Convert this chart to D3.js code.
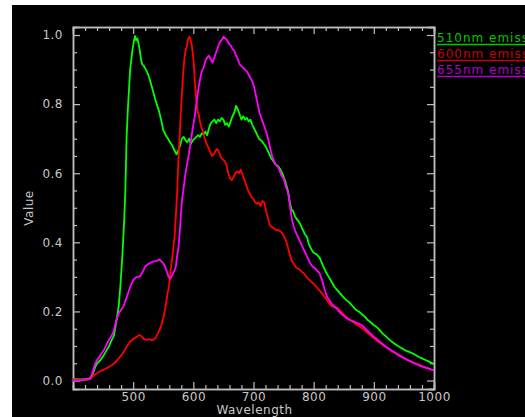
<!DOCTYPE html>
<html>
<head>
<meta charset="utf-8">
<script src="https://cdn.jsdelivr.net/npm/d3@7"></script>
<style>
  body { margin: 0; background: #fff; }
  svg { display: block; }
  text { font-family: "DejaVu Sans", sans-serif; }
</style>
</head>
<body>
<div id="chart"></div>
<script>
// wavelength (nm), value
var green510 = [[400,0.005],[410,0.003],[420,0.004],[428,0.006],[433,0.02],[437,0.04],[440,0.05],[445,0.058],[450,0.07],[455,0.085],[460,0.1],[465,0.12],[468,0.13],[472,0.17],[476,0.215],[479,0.28],[482,0.36],[485,0.46],[487,0.55],[489,0.7],[491,0.78],[493,0.84],[495,0.9],[497,0.93],[499,0.96],[501,0.98],[503,0.997],[505,0.985],[507,0.99],[509,0.975],[511,0.955],[513,0.93],[515,0.915],[518,0.91],[521,0.9],[524,0.89],[527,0.875],[531,0.85],[535,0.825],[539,0.8],[543,0.78],[547,0.75],[550,0.725],[554,0.71],[558,0.7],[561,0.69],[565,0.68],[569,0.665],[572,0.655],[575,0.665],[578,0.68],[581,0.7],[584,0.705],[587,0.695],[590,0.69],[593,0.7],[596,0.685],[599,0.695],[602,0.7],[605,0.705],[608,0.71],[611,0.705],[614,0.715],[617,0.712],[620,0.72],[623,0.71],[626,0.73],[629,0.745],[632,0.75],[635,0.755],[638,0.745],[641,0.755],[644,0.75],[647,0.76],[650,0.755],[653,0.74],[656,0.745],[659,0.735],[662,0.75],[665,0.765],[668,0.775],[671,0.795],[674,0.785],[677,0.77],[680,0.755],[683,0.765],[686,0.755],[689,0.76],[692,0.75],[695,0.755],[698,0.74],[701,0.73],[705,0.715],[709,0.7],[713,0.695],[717,0.685],[721,0.675],[725,0.66],[729,0.645],[733,0.635],[737,0.625],[741,0.62],[745,0.61],[749,0.595],[753,0.575],[757,0.55],[760,0.52],[763,0.495],[766,0.49],[769,0.475],[773,0.465],[777,0.455],[781,0.44],[785,0.425],[789,0.415],[792,0.395],[796,0.38],[800,0.37],[805,0.365],[810,0.355],[815,0.335],[820,0.315],[825,0.3],[830,0.285],[835,0.27],[840,0.26],[845,0.25],[850,0.24],[855,0.232],[860,0.225],[865,0.215],[870,0.205],[875,0.2],[880,0.192],[885,0.185],[890,0.175],[895,0.168],[900,0.16],[905,0.155],[910,0.145],[915,0.135],[920,0.128],[925,0.12],[930,0.112],[935,0.106],[940,0.1],[945,0.095],[950,0.09],[955,0.085],[960,0.082],[965,0.078],[970,0.073],[975,0.068],[980,0.064],[985,0.06],[990,0.056],[995,0.052],[1000,0.048]];

var red600 = [[400,0.003],[410,0.002],[420,0.003],[428,0.004],[432,0.01],[436,0.017],[440,0.022],[445,0.027],[450,0.03],[455,0.035],[460,0.04],[465,0.045],[470,0.052],[475,0.062],[480,0.072],[485,0.085],[490,0.1],[495,0.113],[500,0.12],[505,0.125],[510,0.132],[514,0.128],[518,0.12],[522,0.118],[526,0.12],[530,0.117],[534,0.118],[538,0.125],[542,0.14],[546,0.155],[550,0.18],[554,0.215],[557,0.25],[560,0.28],[563,0.33],[566,0.37],[569,0.42],[571,0.48],[573,0.54],[575,0.63],[577,0.7],[579,0.77],[581,0.83],[583,0.885],[585,0.93],[587,0.955],[589,0.965],[591,0.985],[593,0.995],[595,0.99],[597,0.975],[599,0.95],[601,0.91],[603,0.855],[605,0.81],[607,0.78],[609,0.77],[611,0.75],[613,0.735],[616,0.72],[619,0.7],[622,0.685],[625,0.675],[628,0.662],[631,0.65],[634,0.655],[637,0.665],[640,0.67],[643,0.66],[646,0.645],[649,0.64],[652,0.635],[655,0.625],[658,0.6],[661,0.585],[664,0.58],[667,0.59],[670,0.6],[673,0.605],[676,0.6],[679,0.61],[682,0.595],[685,0.58],[688,0.565],[691,0.55],[694,0.54],[697,0.53],[700,0.525],[703,0.515],[706,0.512],[709,0.515],[712,0.505],[715,0.52],[718,0.515],[721,0.49],[724,0.47],[727,0.45],[730,0.445],[734,0.44],[738,0.435],[742,0.435],[746,0.43],[750,0.42],[754,0.405],[758,0.38],[761,0.36],[764,0.345],[768,0.335],[772,0.325],[776,0.322],[780,0.315],[784,0.31],[788,0.3],[792,0.293],[796,0.286],[800,0.28],[805,0.27],[810,0.26],[815,0.25],[820,0.238],[825,0.225],[830,0.215],[835,0.212],[840,0.21],[845,0.2],[850,0.19],[855,0.183],[860,0.177],[865,0.17],[870,0.163],[875,0.158],[880,0.152],[885,0.145],[890,0.137],[895,0.13],[900,0.122],[905,0.116],[910,0.109],[915,0.103],[920,0.097],[925,0.091],[930,0.085],[935,0.08],[940,0.075],[945,0.07],[950,0.065],[955,0.06],[960,0.057],[965,0.053],[970,0.049],[975,0.046],[980,0.042],[985,0.038],[990,0.035],[995,0.032],[1000,0.029]];

var magenta655 = [[400,0.0],[410,0.0],[420,0.002],[428,0.005],[432,0.02],[436,0.045],[440,0.06],[444,0.068],[448,0.08],[452,0.09],[456,0.105],[460,0.118],[464,0.13],[467,0.14],[470,0.16],[473,0.18],[476,0.195],[480,0.205],[484,0.215],[488,0.235],[492,0.255],[496,0.275],[500,0.29],[504,0.298],[508,0.3],[512,0.302],[516,0.315],[520,0.33],[524,0.336],[528,0.34],[532,0.344],[536,0.345],[540,0.347],[544,0.35],[547,0.345],[550,0.34],[553,0.33],[556,0.315],[559,0.3],[562,0.295],[565,0.305],[568,0.315],[571,0.33],[573,0.36],[575,0.38],[577,0.42],[579,0.47],[581,0.52],[584,0.56],[587,0.6],[590,0.63],[593,0.66],[596,0.695],[599,0.73],[602,0.76],[605,0.8],[608,0.84],[611,0.87],[614,0.895],[617,0.905],[620,0.925],[623,0.935],[626,0.94],[629,0.93],[632,0.92],[635,0.935],[638,0.95],[641,0.965],[644,0.98],[647,0.985],[650,0.995],[653,0.99],[656,0.985],[659,0.975],[662,0.97],[665,0.96],[668,0.955],[671,0.94],[674,0.93],[677,0.915],[680,0.91],[683,0.905],[686,0.9],[689,0.895],[692,0.885],[695,0.875],[698,0.865],[701,0.85],[704,0.825],[707,0.8],[710,0.775],[713,0.76],[716,0.745],[719,0.73],[722,0.715],[725,0.695],[728,0.67],[731,0.65],[734,0.635],[737,0.625],[740,0.62],[743,0.61],[746,0.595],[750,0.585],[754,0.56],[758,0.54],[761,0.5],[764,0.465],[767,0.445],[770,0.43],[774,0.415],[778,0.4],[782,0.385],[786,0.37],[790,0.355],[794,0.34],[798,0.33],[802,0.325],[806,0.318],[810,0.31],[814,0.29],[818,0.265],[822,0.243],[826,0.232],[830,0.222],[834,0.215],[838,0.209],[842,0.2],[846,0.193],[850,0.187],[855,0.18],[860,0.175],[865,0.172],[870,0.168],[875,0.164],[880,0.16],[885,0.152],[890,0.143],[895,0.135],[900,0.126],[905,0.12],[910,0.112],[915,0.105],[920,0.098],[925,0.092],[930,0.086],[935,0.081],[940,0.075],[945,0.07],[950,0.065],[955,0.06],[960,0.056],[965,0.052],[970,0.048],[975,0.044],[980,0.041],[985,0.038],[990,0.035],[995,0.032],[1000,0.029]];

var seriesNames = ["510nm emission", "600nm emission", "655nm emission"];
var xMajor = [500, 600, 700, 800, 900, 1000];
var yMajor = [0.0, 0.2, 0.4, 0.6, 0.8, 1.0];

var W = 525, H = 417;
var pLeft = 73, pRight = 434, pTop = 27, pBottom = 389;
var axisCol = "#bdbdbd";

var svg = d3.select("#chart").append("svg")
    .attr("width", W)
    .attr("height", H);

// black area
svg.append("rect")
   .attr("x", 12).attr("y", 5)
   .attr("width", W - 12).attr("height", H - 5)
   .style("fill", "black");

var x = d3.scaleLinear().domain([400, 1000]).range([pLeft, pRight]);
var y = d3.scaleLinear().domain([-0.0245, 1.0232]).range([pBottom, pTop]);

var xMinor = d3.range(400, 1001, 20).filter(function(d){ return d % 100 != 0; });
var yMinor = d3.range(0, 21).map(function(d){ return d * 0.05; }).filter(function(d){ return Math.round(d*100) % 20 != 0; });

function styleAxis(g){
	g.selectAll("path.domain").style("stroke", axisCol).style("stroke-width", 1.5);
	g.selectAll(".tick line").style("stroke", axisCol).style("stroke-width", 1.2);
	g.selectAll("text").style("fill", "#c8c8c8").style("font-size", "12px").attr("letter-spacing", "0.5px");
}

// bottom
svg.append("g").attr("transform", "translate(0," + pBottom + ")")
	.call(d3.axisBottom(x).tickValues(xMajor).tickSize(-7).tickPadding(3).tickFormat(d3.format("d")))
	.call(styleAxis);
svg.append("g").attr("transform", "translate(0," + pBottom + ")")
	.call(d3.axisBottom(x).tickValues(xMinor).tickSize(-4).tickFormat(""))
	.call(styleAxis);
// top
svg.append("g").attr("transform", "translate(0," + pTop + ")")
	.call(d3.axisTop(x).tickValues(xMajor).tickSize(-7).tickFormat(""))
	.call(styleAxis);
svg.append("g").attr("transform", "translate(0," + pTop + ")")
	.call(d3.axisTop(x).tickValues(xMinor).tickSize(-4).tickFormat(""))
	.call(styleAxis);
// left
svg.append("g").attr("transform", "translate(" + pLeft + ",0)")
	.call(d3.axisLeft(y).tickValues(yMajor).tickSize(-7).tickPadding(10).tickFormat(d3.format(".1f")))
	.call(styleAxis);
svg.append("g").attr("transform", "translate(" + pLeft + ",0)")
	.call(d3.axisLeft(y).tickValues(yMinor).tickSize(-4).tickFormat(""))
	.call(styleAxis);
// right
svg.append("g").attr("transform", "translate(" + pRight + ",0)")
	.call(d3.axisRight(y).tickValues(yMajor).tickSize(-7).tickFormat(""))
	.call(styleAxis);
svg.append("g").attr("transform", "translate(" + pRight + ",0)")
	.call(d3.axisRight(y).tickValues(yMinor).tickSize(-4).tickFormat(""))
	.call(styleAxis);

// axis titles
svg.append("text")
   .attr("x", (pLeft + pRight) / 2 + 1).attr("y", 414)
   .attr("text-anchor", "middle")
   .attr("letter-spacing", "0.5px")
   .style("fill", "#c8c8c8").style("font-size", "12px")
   .text("Wavelength");
svg.append("text")
   .attr("transform", "translate(33,208) rotate(-90)")
   .attr("text-anchor", "middle")
   .attr("letter-spacing", "0.5px")
   .style("fill", "#c8c8c8").style("font-size", "12px")
   .text("Value");

// curves
svg.append("clipPath").attr("id", "clip")
   .append("rect").attr("x", pLeft).attr("y", pTop).attr("width", pRight - pLeft).attr("height", pBottom - pTop);

var line = d3.line()
	.x(function(d){ return x(d[0]); })
	.y(function(d){ return y(d[1]); });

var lineCols = ["#00ff00", "#ff0000", "#ff00ff"];
var legendCols = ["#00c800", "#c80000", "#b000c8"];
var allSeries = [green510, red600, magenta655];

svg.append("g").attr("clip-path", "url(#clip)")
   .selectAll("path")
   .data(allSeries)
   .enter().append("path")
   .attr("d", line)
   .style("fill", "none")
   .style("stroke", function(d, i){ return lineCols[i]; })
   .style("stroke-width", 1.8)
   .style("stroke-linejoin", "round");

// legend, runs off the right edge like the original
var leg = svg.append("g");
seriesNames.forEach(function(name, i){
	var yy = 42 + i * 16;
	leg.append("text")
	   .attr("x", 437).attr("y", yy)
	   .attr("letter-spacing", "1px")
	   .style("fill", legendCols[i]).style("font-size", "12px")
	   .text(name);
	leg.append("line")
	   .attr("x1", 437).attr("x2", W)
	   .attr("y1", yy + 2.5).attr("y2", yy + 2.5)
	   .style("stroke", legendCols[i]).style("stroke-width", 1.5);
});
</script>
</body>
</html>
